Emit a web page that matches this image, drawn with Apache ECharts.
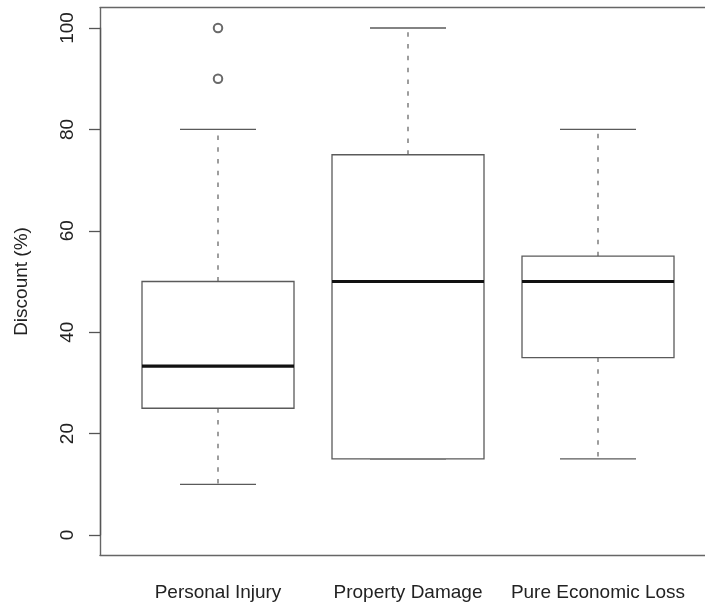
<!DOCTYPE html>
<html>
<head>
<meta charset="utf-8">
<script src="https://cdn.jsdelivr.net/npm/echarts@6/dist/echarts.min.js"></script>
<style>
html,body{margin:0;padding:0;background:#fff;}
#chart{width:705px;height:604px;}
</style>
</head>
<body>
<div id="chart"></div>
<script>
// Categories and box statistics
const categories = ['Personal Injury', 'Property Damage', 'Pure Economic Loss'];
const lowerWhisker = [10, 15, 15];
const q1 = [25, 15, 35];
const median = [33.3, 50, 50];
const q3 = [50, 75, 55];
const upperWhisker = [80, 100, 80];
// Outliers: [category index, value]
const outliers = [[0, 90], [0, 100]];
const yTicks = {min: 0, max: 100, interval: 20};
const yTitle = 'Discount (%)';

const FONT = 'Liberation Sans, Arial, Helvetica, sans-serif';
const FS = 19;
const boxData = categories.map((c, i) => [i, lowerWhisker[i], q1[i], median[i], q3[i], upperWhisker[i]]);

function renderBox(params, api) {
  const idx = api.value(0);
  const band = api.size([1, 0])[0];
  const bw = band * 0.8;
  const cw = band * 0.4;
  const pLow = api.coord([idx, api.value(1)]);
  const pQ1 = api.coord([idx, api.value(2)]);
  const pMed = api.coord([idx, api.value(3)]);
  const pQ3 = api.coord([idx, api.value(4)]);
  const pHigh = api.coord([idx, api.value(5)]);
  const x = pMed[0];
  const boxColor = '#5a5a5a';
  const whiskColor = '#6a6a6a';
  return {
    type: 'group',
    children: [
      {type: 'line', shape: {x1: x, y1: pQ3[1], x2: x, y2: pHigh[1]},
        style: {stroke: whiskColor, lineWidth: 1.3, lineDash: [4.5, 7.3]}},
      {type: 'line', shape: {x1: x, y1: pQ1[1], x2: x, y2: pLow[1]},
        style: {stroke: whiskColor, lineWidth: 1.3, lineDash: [4.5, 7.3]}},
      {type: 'line', shape: {x1: x - cw / 2, y1: pHigh[1], x2: x + cw / 2, y2: pHigh[1]},
        style: {stroke: boxColor, lineWidth: 1.3}},
      {type: 'line', shape: {x1: x - cw / 2, y1: pLow[1], x2: x + cw / 2, y2: pLow[1]},
        style: {stroke: boxColor, lineWidth: 1.3}},
      {type: 'rect', shape: {x: x - bw / 2, y: pQ3[1], width: bw, height: pQ1[1] - pQ3[1]},
        style: {fill: '#fff', stroke: boxColor, lineWidth: 1.3}},
      {type: 'line', shape: {x1: x - bw / 2, y1: pMed[1], x2: x + bw / 2, y2: pMed[1]},
        style: {stroke: '#111', lineWidth: 3.2}}
    ]
  };
}

const frameLine = {show: true, lineStyle: {color: '#666', width: 1.4}};
const chart = echarts.init(document.getElementById('chart'), null, {renderer: 'canvas'});
chart.setOption({
  animation: false,
  backgroundColor: '#fff',
  grid: [
    {left: 100, top: 7.7, width: 617, height: 547.6, show: false},
    {left: 123, top: 28, width: 570, height: 507}
  ],
  xAxis: [
    {gridIndex: 0, type: 'value', min: 0, max: 1, position: 'bottom',
      axisLine: frameLine, axisTick: {show: false}, axisLabel: {show: false}, splitLine: {show: false}},
    {gridIndex: 0, type: 'value', min: 0, max: 1, position: 'top',
      axisLine: frameLine, axisTick: {show: false}, axisLabel: {show: false}, splitLine: {show: false}},
    {gridIndex: 1, type: 'category', data: categories,
      axisLine: {show: false}, axisTick: {show: false}, splitLine: {show: false},
      axisLabel: {interval: 0, margin: 48, fontSize: FS, fontFamily: FONT, color: '#222'}}
  ],
  yAxis: [
    {gridIndex: 0, type: 'value', min: 0, max: 1, position: 'left',
      axisLine: frameLine, axisTick: {show: false}, axisLabel: {show: false}, splitLine: {show: false}},
    {gridIndex: 1, type: 'value', min: yTicks.min, max: yTicks.max, interval: yTicks.interval,
      offset: 23,
      name: yTitle, nameLocation: 'middle', nameGap: 69,
      nameTextStyle: {fontSize: FS, fontFamily: FONT, color: '#222'},
      axisLine: {show: true, lineStyle: {color: '#555', width: 1.3}},
      axisTick: {show: true, length: 11, lineStyle: {color: '#555', width: 1.3}},
      splitLine: {show: false},
      axisLabel: {rotate: 90, margin: 23, fontSize: FS, fontFamily: FONT, color: '#222'}}
  ],
  series: [
    {type: 'custom', xAxisIndex: 2, yAxisIndex: 1, data: boxData, renderItem: renderBox, silent: true},
    {type: 'scatter', xAxisIndex: 2, yAxisIndex: 1, data: outliers, symbol: 'emptyCircle', symbolSize: 8.5,
      itemStyle: {color: '#444', borderColor: '#444', borderWidth: 1.4}, silent: true}
  ]
});
</script>
</body>
</html>
